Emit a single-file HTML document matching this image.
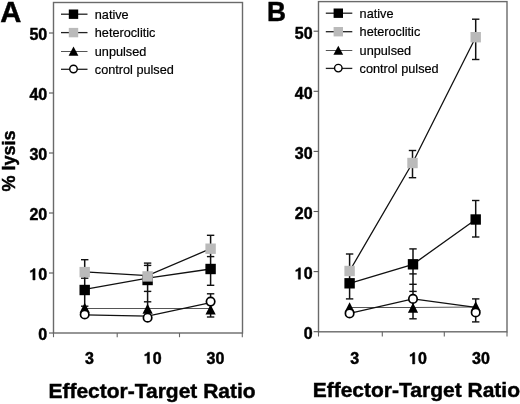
<!DOCTYPE html>
<html><head><meta charset="utf-8"><style>
html,body{margin:0;padding:0;background:#fff;}
svg{display:block;will-change:transform;}
text{font-family:"Liberation Sans", sans-serif;fill:#000;}
.b{stroke:#000;stroke-width:0.45px;}
.r{stroke:#000;stroke-width:0.2px;}
</style></head><body>
<svg width="520" height="404" viewBox="0 0 520 404">
<rect width="520" height="404" fill="#fff"/>
<rect x="53.5" y="2.5" width="189.0" height="330.5" fill="none" stroke="#6a6a6a" stroke-width="1.4"/>
<line x1="49.00" y1="333.00" x2="53.50" y2="333.00" stroke="#555" stroke-width="1.1"/>
<text x="38.3" y="340.0" font-size="16" font-weight="bold" text-anchor="start" class="b" >0</text>
<line x1="49.00" y1="273.00" x2="53.50" y2="273.00" stroke="#555" stroke-width="1.1"/>
<path d="M35.09 280.00 L35.09 268.61 L33.41 268.61 L32.85 269.36 L32.13 270.08 L30.37 270.80 L30.37 272.40 L32.85 271.60 L32.85 280.00Z" fill="#000" stroke="#000" stroke-width="0.45"/>
<text x="38.3" y="280.0" font-size="16" font-weight="bold" text-anchor="start" class="b" >0</text>
<line x1="49.00" y1="213.00" x2="53.50" y2="213.00" stroke="#555" stroke-width="1.1"/>
<text x="29.41" y="220.0" font-size="16" font-weight="bold" text-anchor="start" class="b" >2</text>
<text x="38.3" y="220.0" font-size="16" font-weight="bold" text-anchor="start" class="b" >0</text>
<line x1="49.00" y1="153.00" x2="53.50" y2="153.00" stroke="#555" stroke-width="1.1"/>
<text x="29.41" y="160.0" font-size="16" font-weight="bold" text-anchor="start" class="b" >3</text>
<text x="38.3" y="160.0" font-size="16" font-weight="bold" text-anchor="start" class="b" >0</text>
<line x1="49.00" y1="93.00" x2="53.50" y2="93.00" stroke="#555" stroke-width="1.1"/>
<text x="29.41" y="100.0" font-size="16" font-weight="bold" text-anchor="start" class="b" >4</text>
<text x="38.3" y="100.0" font-size="16" font-weight="bold" text-anchor="start" class="b" >0</text>
<line x1="49.00" y1="33.00" x2="53.50" y2="33.00" stroke="#555" stroke-width="1.1"/>
<text x="29.41" y="40.0" font-size="16" font-weight="bold" text-anchor="start" class="b" >5</text>
<text x="38.3" y="40.0" font-size="16" font-weight="bold" text-anchor="start" class="b" >0</text>
<line x1="53.50" y1="333.00" x2="53.50" y2="337.20" stroke="#666" stroke-width="1.1"/>
<line x1="117.20" y1="333.00" x2="117.20" y2="337.20" stroke="#666" stroke-width="1.1"/>
<line x1="179.50" y1="333.00" x2="179.50" y2="337.20" stroke="#666" stroke-width="1.1"/>
<line x1="242.30" y1="333.00" x2="242.30" y2="337.20" stroke="#666" stroke-width="1.1"/>
<text x="85.05" y="363.6" font-size="16" font-weight="bold" text-anchor="start" class="b" >3</text>
<path d="M149.48 363.60 L149.48 352.21 L147.80 352.21 L147.24 352.96 L146.52 353.68 L144.76 354.40 L144.76 356.00 L147.24 355.20 L147.24 363.60Z" fill="#000" stroke="#000" stroke-width="0.45"/>
<text x="152.7" y="363.6" font-size="16" font-weight="bold" text-anchor="start" class="b" >0</text>
<text x="206.5" y="363.6" font-size="16" font-weight="bold" text-anchor="start" class="b" >3</text>
<text x="215.4" y="363.6" font-size="16" font-weight="bold" text-anchor="start" class="b" >0</text>
<text x="48.4" y="398.3" font-size="21.0" font-weight="bold" text-anchor="start" class="b" >Effector-Target Ratio</text>
<text x="0.3" y="21.6" font-size="29.2" font-weight="bold" text-anchor="start" class="b" >A</text>
<text x="0" y="0" font-size="18" font-weight="bold" class="b" text-anchor="middle" transform="translate(14.5 161) rotate(-90)">% lysis</text>
<rect x="318.5" y="1.6" width="188.5" height="330.2" fill="none" stroke="#6a6a6a" stroke-width="1.4"/>
<line x1="313.60" y1="331.70" x2="318.50" y2="331.70" stroke="#555" stroke-width="1.1"/>
<text x="303.7" y="339.3" font-size="16" font-weight="bold" text-anchor="start" class="b" >0</text>
<line x1="313.60" y1="271.60" x2="318.50" y2="271.60" stroke="#555" stroke-width="1.1"/>
<path d="M300.49 279.20 L300.49 267.81 L298.81 267.81 L298.25 268.56 L297.53 269.28 L295.77 270.00 L295.77 271.60 L298.25 270.80 L298.25 279.20Z" fill="#000" stroke="#000" stroke-width="0.45"/>
<text x="303.7" y="279.20000000000005" font-size="16" font-weight="bold" text-anchor="start" class="b" >0</text>
<line x1="313.60" y1="211.50" x2="318.50" y2="211.50" stroke="#555" stroke-width="1.1"/>
<text x="294.81" y="219.1" font-size="16" font-weight="bold" text-anchor="start" class="b" >2</text>
<text x="303.7" y="219.1" font-size="16" font-weight="bold" text-anchor="start" class="b" >0</text>
<line x1="313.60" y1="151.40" x2="318.50" y2="151.40" stroke="#555" stroke-width="1.1"/>
<text x="294.81" y="159.0" font-size="16" font-weight="bold" text-anchor="start" class="b" >3</text>
<text x="303.7" y="159.0" font-size="16" font-weight="bold" text-anchor="start" class="b" >0</text>
<line x1="313.60" y1="91.30" x2="318.50" y2="91.30" stroke="#555" stroke-width="1.1"/>
<text x="294.81" y="98.9" font-size="16" font-weight="bold" text-anchor="start" class="b" >4</text>
<text x="303.7" y="98.9" font-size="16" font-weight="bold" text-anchor="start" class="b" >0</text>
<line x1="313.60" y1="31.20" x2="318.50" y2="31.20" stroke="#555" stroke-width="1.1"/>
<text x="294.81" y="38.79999999999999" font-size="16" font-weight="bold" text-anchor="start" class="b" >5</text>
<text x="303.7" y="38.79999999999999" font-size="16" font-weight="bold" text-anchor="start" class="b" >0</text>
<line x1="318.50" y1="331.80" x2="318.50" y2="336.50" stroke="#666" stroke-width="1.1"/>
<line x1="382.30" y1="331.80" x2="382.30" y2="336.50" stroke="#666" stroke-width="1.1"/>
<line x1="444.30" y1="331.80" x2="444.30" y2="336.50" stroke="#666" stroke-width="1.1"/>
<line x1="507.00" y1="331.80" x2="507.00" y2="336.50" stroke="#666" stroke-width="1.1"/>
<text x="350.15" y="364.0" font-size="16" font-weight="bold" text-anchor="start" class="b" >3</text>
<path d="M414.78 364.00 L414.78 352.61 L413.10 352.61 L412.54 353.36 L411.82 354.08 L410.06 354.80 L410.06 356.40 L412.54 355.60 L412.54 364.00Z" fill="#000" stroke="#000" stroke-width="0.45"/>
<text x="418.0" y="364.0" font-size="16" font-weight="bold" text-anchor="start" class="b" >0</text>
<text x="472.1" y="364.0" font-size="16" font-weight="bold" text-anchor="start" class="b" >3</text>
<text x="481.0" y="364.0" font-size="16" font-weight="bold" text-anchor="start" class="b" >0</text>
<text x="312.7" y="397.4" font-size="21.0" font-weight="bold" text-anchor="start" class="b" >Effector-Target Ratio</text>
<text x="0" y="0" font-size="28" font-weight="bold" class="b" transform="translate(266.9 20.6) scale(0.94 1)">B</text>
<line x1="61.00" y1="14.20" x2="87.50" y2="14.20" stroke="#222" stroke-width="1.3"/>
<rect x="68.80" y="9.50" width="9.4" height="9.4" fill="#000"/>
<text x="94.8" y="18.6" font-size="12.7" font-weight="normal" text-anchor="start" class="r">native</text>
<line x1="61.00" y1="32.60" x2="87.50" y2="32.60" stroke="#222" stroke-width="1.3"/>
<rect x="68.80" y="27.90" width="9.4" height="9.4" fill="#bababa"/>
<text x="94.8" y="37.0" font-size="12.7" font-weight="normal" text-anchor="start" class="r">heteroclitic</text>
<line x1="61.00" y1="51.50" x2="87.50" y2="51.50" stroke="#555" stroke-width="1.0"/>
<path d="M73.50 46.55 L78.40 55.65 L68.60 55.65Z" fill="#000"/>
<text x="94.8" y="55.8" font-size="12.7" font-weight="normal" text-anchor="start" class="r">unpulsed</text>
<line x1="61.00" y1="69.30" x2="87.50" y2="69.30" stroke="#222" stroke-width="1.3"/>
<circle cx="73.50" cy="69.00" r="3.75" fill="#fff" stroke="#000" stroke-width="1.4"/>
<text x="94.8" y="73.7" font-size="12.7" font-weight="normal" text-anchor="start" class="r">control pulsed</text>
<line x1="325.80" y1="13.20" x2="352.30" y2="13.20" stroke="#222" stroke-width="1.3"/>
<rect x="333.60" y="8.50" width="9.4" height="9.4" fill="#000"/>
<text x="359.6" y="17.6" font-size="12.7" font-weight="normal" text-anchor="start" class="r">native</text>
<line x1="325.80" y1="31.70" x2="352.30" y2="31.70" stroke="#222" stroke-width="1.3"/>
<rect x="333.60" y="27.00" width="9.4" height="9.4" fill="#bababa"/>
<text x="359.6" y="36.1" font-size="12.7" font-weight="normal" text-anchor="start" class="r">heteroclitic</text>
<line x1="325.80" y1="50.50" x2="352.30" y2="50.50" stroke="#555" stroke-width="1.0"/>
<path d="M338.30 45.65 L343.20 54.75 L333.40 54.75Z" fill="#000"/>
<text x="359.6" y="54.9" font-size="12.7" font-weight="normal" text-anchor="start" class="r">unpulsed</text>
<line x1="325.80" y1="68.40" x2="352.30" y2="68.40" stroke="#222" stroke-width="1.3"/>
<circle cx="338.30" cy="68.10" r="3.75" fill="#fff" stroke="#000" stroke-width="1.4"/>
<text x="359.6" y="72.80000000000001" font-size="12.7" font-weight="normal" text-anchor="start" class="r">control pulsed</text>
<line x1="84.70" y1="259.70" x2="84.70" y2="306.20" stroke="#111" stroke-width="1.5"/>
<line x1="81.00" y1="259.70" x2="88.40" y2="259.70" stroke="#111" stroke-width="1.4"/>
<line x1="81.00" y1="278.20" x2="88.40" y2="278.20" stroke="#111" stroke-width="1.4"/>
<line x1="81.00" y1="306.20" x2="88.40" y2="306.20" stroke="#111" stroke-width="1.4"/>
<line x1="147.60" y1="263.10" x2="147.60" y2="310.00" stroke="#111" stroke-width="1.5"/>
<line x1="143.90" y1="263.10" x2="151.30" y2="263.10" stroke="#111" stroke-width="1.4"/>
<line x1="143.90" y1="265.40" x2="151.30" y2="265.40" stroke="#111" stroke-width="1.4"/>
<line x1="143.90" y1="291.40" x2="151.30" y2="291.40" stroke="#111" stroke-width="1.4"/>
<line x1="143.90" y1="301.80" x2="151.30" y2="301.80" stroke="#111" stroke-width="1.4"/>
<line x1="210.60" y1="235.30" x2="210.60" y2="285.30" stroke="#111" stroke-width="1.5"/>
<line x1="206.90" y1="235.30" x2="214.30" y2="235.30" stroke="#111" stroke-width="1.4"/>
<line x1="206.90" y1="256.60" x2="214.30" y2="256.60" stroke="#111" stroke-width="1.4"/>
<line x1="206.90" y1="285.30" x2="214.30" y2="285.30" stroke="#111" stroke-width="1.4"/>
<line x1="210.60" y1="293.80" x2="210.60" y2="317.00" stroke="#111" stroke-width="1.5"/>
<line x1="206.90" y1="293.80" x2="214.30" y2="293.80" stroke="#111" stroke-width="1.4"/>
<line x1="206.90" y1="317.00" x2="214.30" y2="317.00" stroke="#111" stroke-width="1.4"/>
<polyline points="84.70,271.80 147.60,275.60 210.60,248.70" fill="none" stroke="#111" stroke-width="1.3"/>
<polyline points="84.70,289.40 147.60,278.20 210.60,269.00" fill="none" stroke="#111" stroke-width="1.3"/>
<polyline points="84.70,308.50 147.60,308.50 210.60,308.50" fill="none" stroke="#555" stroke-width="1.0"/>
<polyline points="84.70,314.80 147.60,316.20 210.60,302.60" fill="none" stroke="#111" stroke-width="1.3"/>
<path d="M84.70 302.70 L89.80 312.70 L79.60 312.70Z" fill="#000"/>
<path d="M147.60 303.70 L152.70 313.70 L142.50 313.70Z" fill="#000"/>
<path d="M210.60 304.50 L215.70 314.50 L205.50 314.50Z" fill="#000"/>
<circle cx="84.70" cy="314.50" r="4.2" fill="#fff" stroke="#000" stroke-width="1.7"/>
<circle cx="147.60" cy="317.70" r="4.2" fill="#fff" stroke="#000" stroke-width="1.7"/>
<circle cx="210.60" cy="301.60" r="4.2" fill="#fff" stroke="#000" stroke-width="1.7"/>
<rect x="79.50" y="284.80" width="10.4" height="10.4" fill="#000"/>
<rect x="142.40" y="274.80" width="10.4" height="10.4" fill="#000"/>
<rect x="205.40" y="263.80" width="10.4" height="10.4" fill="#000"/>
<rect x="79.50" y="266.90" width="10.4" height="10.4" fill="#bababa"/>
<rect x="142.40" y="271.20" width="10.4" height="10.4" fill="#bababa"/>
<rect x="205.40" y="243.50" width="10.4" height="10.4" fill="#bababa"/>
<line x1="349.60" y1="254.00" x2="349.60" y2="298.90" stroke="#111" stroke-width="1.5"/>
<line x1="345.90" y1="254.00" x2="353.30" y2="254.00" stroke="#111" stroke-width="1.4"/>
<line x1="345.90" y1="298.90" x2="353.30" y2="298.90" stroke="#111" stroke-width="1.4"/>
<line x1="412.50" y1="150.50" x2="412.50" y2="177.70" stroke="#111" stroke-width="1.5"/>
<line x1="408.80" y1="150.50" x2="416.20" y2="150.50" stroke="#111" stroke-width="1.4"/>
<line x1="408.80" y1="177.70" x2="416.20" y2="177.70" stroke="#111" stroke-width="1.4"/>
<line x1="475.70" y1="19.20" x2="475.70" y2="59.50" stroke="#111" stroke-width="1.5"/>
<line x1="472.00" y1="19.20" x2="479.40" y2="19.20" stroke="#111" stroke-width="1.4"/>
<line x1="472.00" y1="59.50" x2="479.40" y2="59.50" stroke="#111" stroke-width="1.4"/>
<line x1="413.00" y1="248.90" x2="413.00" y2="318.80" stroke="#111" stroke-width="1.5"/>
<line x1="409.30" y1="248.90" x2="416.70" y2="248.90" stroke="#111" stroke-width="1.4"/>
<line x1="409.30" y1="273.90" x2="416.70" y2="273.90" stroke="#111" stroke-width="1.4"/>
<line x1="409.30" y1="284.30" x2="416.70" y2="284.30" stroke="#111" stroke-width="1.4"/>
<line x1="409.30" y1="291.40" x2="416.70" y2="291.40" stroke="#111" stroke-width="1.4"/>
<line x1="409.30" y1="318.80" x2="416.70" y2="318.80" stroke="#111" stroke-width="1.4"/>
<line x1="475.70" y1="200.50" x2="475.70" y2="237.00" stroke="#111" stroke-width="1.5"/>
<line x1="472.00" y1="200.50" x2="479.40" y2="200.50" stroke="#111" stroke-width="1.4"/>
<line x1="472.00" y1="237.00" x2="479.40" y2="237.00" stroke="#111" stroke-width="1.4"/>
<line x1="475.70" y1="298.90" x2="475.70" y2="321.90" stroke="#111" stroke-width="1.5"/>
<line x1="472.00" y1="298.90" x2="479.40" y2="298.90" stroke="#111" stroke-width="1.4"/>
<line x1="472.00" y1="321.90" x2="479.40" y2="321.90" stroke="#111" stroke-width="1.4"/>
<polyline points="349.60,271.00 412.50,163.00 475.70,37.20" fill="none" stroke="#111" stroke-width="1.3"/>
<polyline points="349.60,283.30 413.00,264.30 475.70,219.50" fill="none" stroke="#111" stroke-width="1.3"/>
<polyline points="349.60,307.50 413.00,307.50 475.70,307.00" fill="none" stroke="#555" stroke-width="1.0"/>
<polyline points="349.60,313.40 413.00,298.90 475.70,307.30" fill="none" stroke="#111" stroke-width="1.3"/>
<path d="M349.60 302.30 L354.70 312.30 L344.50 312.30Z" fill="#000"/>
<path d="M413.00 302.70 L418.10 312.70 L407.90 312.70Z" fill="#000"/>
<path d="M475.70 301.30 L480.80 311.30 L470.60 311.30Z" fill="#000"/>
<circle cx="349.60" cy="313.40" r="4.2" fill="#fff" stroke="#000" stroke-width="1.7"/>
<circle cx="413.00" cy="298.90" r="4.2" fill="#fff" stroke="#000" stroke-width="1.7"/>
<circle cx="475.70" cy="312.50" r="4.2" fill="#fff" stroke="#000" stroke-width="1.7"/>
<rect x="344.40" y="278.10" width="10.4" height="10.4" fill="#000"/>
<rect x="407.80" y="259.10" width="10.4" height="10.4" fill="#000"/>
<rect x="470.50" y="214.30" width="10.4" height="10.4" fill="#000"/>
<rect x="344.40" y="265.80" width="10.4" height="10.4" fill="#bababa"/>
<rect x="407.30" y="157.80" width="10.4" height="10.4" fill="#bababa"/>
<rect x="470.50" y="32.00" width="10.4" height="10.4" fill="#bababa"/>
</svg>
</body></html>
